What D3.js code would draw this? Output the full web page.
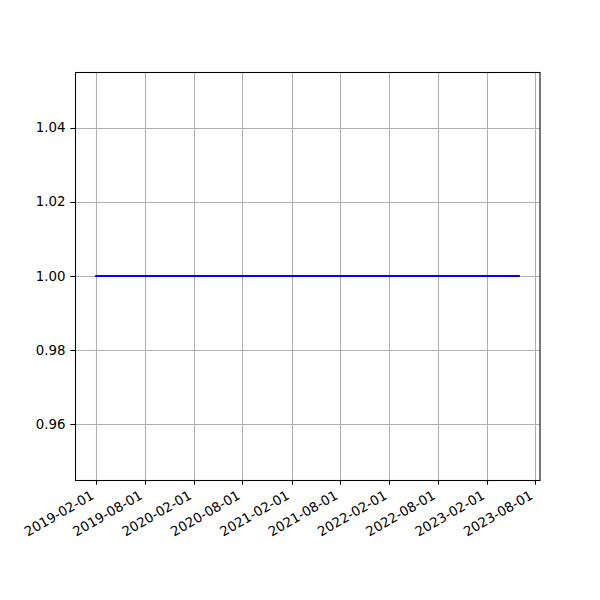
<!DOCTYPE html>
<html>
<head>
<meta charset="utf-8">
<script src="https://cdn.jsdelivr.net/npm/d3@7"></script>
<style>
  body { margin: 0; background: #fff; }
  svg { display: block; }
  text { font-family: "DejaVu Sans", sans-serif; font-size: 13.33px; fill: #000; }
</style>
</head>
<body>
<svg id="chart" width="600" height="600"></svg>
<script>
// Data: monthly dates and the (constant) series values
const dates = [
  "2019-02-01","2019-03-01","2019-04-01","2019-05-01","2019-06-01","2019-07-01","2019-08-01","2019-09-01","2019-10-01","2019-11-01","2019-12-01",
  "2020-01-01","2020-02-01","2020-03-01","2020-04-01","2020-05-01","2020-06-01","2020-07-01","2020-08-01","2020-09-01","2020-10-01","2020-11-01","2020-12-01",
  "2021-01-01","2021-02-01","2021-03-01","2021-04-01","2021-05-01","2021-06-01","2021-07-01","2021-08-01","2021-09-01","2021-10-01","2021-11-01","2021-12-01",
  "2022-01-01","2022-02-01","2022-03-01","2022-04-01","2022-05-01","2022-06-01","2022-07-01","2022-08-01","2022-09-01","2022-10-01","2022-11-01","2022-12-01",
  "2023-01-01","2023-02-01","2023-03-01","2023-04-01","2023-05-01","2023-06-01"
];
const values = [
  1,1,1,1,1,1,1,1,1,1,1,
  1,1,1,1,1,1,1,1,1,1,1,1,
  1,1,1,1,1,1,1,1,1,1,1,1,
  1,1,1,1,1,1,1,1,1,1,1,1,
  1,1,1,1,1,1
];
const xTickLabels = ["2019-02-01","2019-08-01","2020-02-01","2020-08-01","2021-02-01","2021-08-01","2022-02-01","2022-08-01","2023-02-01","2023-08-01"];
const yTickValues = [0.96, 0.98, 1.00, 1.02, 1.04];

(function () {
const parse = d3.utcParse("%Y-%m-%d");
const data = dates.map((d, i) => ({ date: parse(d), value: values[i] }));

const svg = d3.select("#chart");
const mLeft = 75, mRight = 540, mTop = 72, mBottom = 480;

const dMin = d3.min(data, d => d.date), dMax = d3.max(data, d => d.date);
const span = dMax - dMin;
const x = d3.scaleUtc()
  .domain([new Date(+dMin - span * 0.05), new Date(+dMax + span * 0.05)])
  .range([mLeft, mRight]);
const y = d3.scaleLinear().domain([0.945, 1.055]).range([mBottom, mTop]);

const xTicks = xTickLabels.map(parse);
const gridColor = "#b0b0b0";

// grid
const grid = svg.append("g");
grid.selectAll("line.vx").data(xTicks).join("line").attr("class", "vx")
  .attr("x1", d => Math.round(x(d)) + 0.5).attr("x2", d => Math.round(x(d)) + 0.5)
  .attr("y1", mTop).attr("y2", mBottom)
  .attr("stroke", gridColor).attr("stroke-width", 1.07);
grid.selectAll("line.hy").data(yTickValues).join("line").attr("class", "hy")
  .attr("x1", mLeft).attr("x2", mRight)
  .attr("y1", d => Math.round(y(d)) + 0.5).attr("y2", d => Math.round(y(d)) + 0.5)
  .attr("stroke", gridColor).attr("stroke-width", 1.07);

// line
const line = d3.line().x(d => x(d.date)).y(d => y(d.value));
svg.append("path").datum(data)
  .attr("d", line).attr("fill", "none")
  .attr("stroke", "#0000ff").attr("stroke-width", 2)
  .attr("stroke-linecap", "square");

// frame
svg.append("rect")
  .attr("x", mLeft + 0.5).attr("y", mTop + 0.5)
  .attr("width", mRight - mLeft - 0.5).attr("height", mBottom - mTop)
  .attr("fill", "none").attr("stroke", "#000").attr("stroke-width", 1.07);

// x axis ticks
const xa = svg.append("g");
xa.selectAll("line").data(xTicks).join("line")
  .attr("x1", d => Math.round(x(d)) + 0.5).attr("x2", d => Math.round(x(d)) + 0.5)
  .attr("y1", mBottom).attr("y2", mBottom + 4.67)
  .attr("stroke", "#000").attr("stroke-width", 1.07);
xa.selectAll("text").data(xTicks).join("text")
  .attr("transform", d => `translate(${x(d) - 1.2},${mBottom + 18})rotate(-30)`)
  .attr("text-anchor", "end")
  .text((d, i) => xTickLabels[i]);

// y axis ticks
const ya = svg.append("g");
ya.selectAll("line").data(yTickValues).join("line")
  .attr("x1", mLeft - 4.67).attr("x2", mLeft)
  .attr("y1", d => Math.round(y(d)) + 0.5).attr("y2", d => Math.round(y(d)) + 0.5)
  .attr("stroke", "#000").attr("stroke-width", 1.07);
ya.selectAll("text").data(yTickValues).join("text")
  .attr("x", mLeft - 9.5).attr("y", d => y(d))
  .attr("dy", "0.35em")
  .attr("text-anchor", "end")
  .text(d => d3.format(".2f")(d));
})();
</script>
</body>
</html>
